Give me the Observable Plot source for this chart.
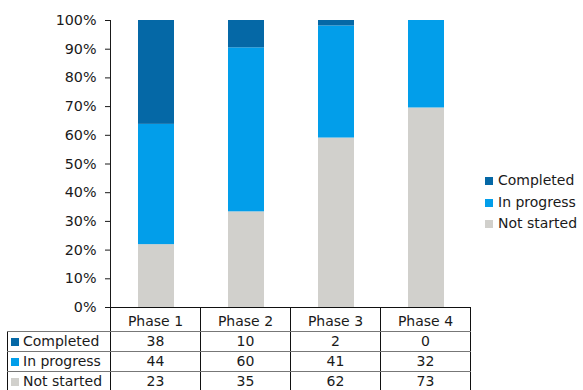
<!DOCTYPE html>
<html>
<head>
<meta charset="utf-8">
<script src="https://cdn.jsdelivr.net/npm/d3@7"></script>
<script src="https://cdn.jsdelivr.net/npm/@observablehq/plot@0.6"></script>
<style>
  html, body { margin: 0; padding: 0; background: #fff; }
  #wrap { position: relative; width: 583px; height: 390px; overflow: hidden; font-family: "DejaVu Sans", Verdana, sans-serif; font-size: 14px; color: #1a1a1a; }
  #legend { position: absolute; left: 485px; top: 170px; }
  #legend .item { height: 21.5px; line-height: 21.5px; white-space: nowrap; }
  .sw { display: inline-block; width: 8px; height: 8px; margin-right: 5px; vertical-align: 0px; }
  table { position: absolute; border-collapse: collapse; table-layout: fixed; }
  td { padding: 0; text-align: center; border-left: 1px solid #111; border-right: 1px solid #111; border-top: 1px solid #777; border-bottom: 1px solid #777; white-space: nowrap; overflow: hidden; }
  tr.head td { height: 20px; padding-top: 3px; line-height: 20px; border-top: 1px solid #111; }
  tr.head td.blank { border-top: none; border-left: none; }
  tr.row td { height: 19px; line-height: 19px; }
  td.lab { text-align: left; padding-left: 3px; }
  .lab .sw { margin-right: 4px; }
</style>
</head>
<body>
<div id="wrap"></div>
<script>
const phases = ["Phase 1", "Phase 2", "Phase 3", "Phase 4"];
const statuses = ["Completed", "In progress", "Not started"];
const completed = [38, 10, 2, 0];
const inProgress = [44, 60, 41, 32];
const notStarted = [23, 35, 62, 73];
const colors = ["#0568a6", "#029eea", "#d1d0cc"];
const yTicks = [0, 0.1, 0.2, 0.3, 0.4, 0.5, 0.6, 0.7, 0.8, 0.9, 1];

const seriesValues = {"Completed": completed, "In progress": inProgress, "Not started": notStarted};

// stacking order: bottom to top = Not started, In progress, Completed
const rows = [];
for (const s of statuses.slice().reverse()) {
  phases.forEach((p, i) => rows.push({phase: p, status: s, value: seriesValues[s][i]}));
}

const chart = Plot.plot({
  width: 583,
  height: 390,
  marginLeft: 110,
  marginRight: 112,
  marginTop: 20,
  marginBottom: 83,
  style: {fontFamily: "DejaVu Sans, Verdana, sans-serif", fontSize: "14.3px", color: "#1a1a1a", background: "transparent"},
  x: {domain: phases, padding: 0, axis: null},
  y: {domain: [0, 1], ticks: yTicks, tickFormat: d => Math.round(d * 100) + "%", tickSize: 5, tickPadding: 9, line: true, label: null},
  color: {domain: statuses, range: colors},
  marks: [
    Plot.barY(rows, Plot.stackY({offset: "normalize", x: "phase", y: "value", fill: "status", insetLeft: 27, insetRight: 27})),
    Plot.ruleY([0], {stroke: "#111"})
  ]
});

const wrap = document.getElementById("wrap");
wrap.appendChild(chart);

// data table below the plot, aligned with the x band scale
const xs = chart.scale("x");
const step = xs.step || xs.bandwidth || 90.25;
const left0 = 7, plotLeft = 110;
const table = document.createElement("table");
table.style.left = left0 + "px";
table.style.top = "307px";
table.style.width = (plotLeft - left0 + step * phases.length) + "px";
let html = `<colgroup><col style="width:${plotLeft - left0}px">` + phases.map(() => `<col style="width:${step}px">`).join("") + `</colgroup>`;
html += `<tr class="head"><td class="blank"></td>` + phases.map(p => `<td>${p}</td>`).join("") + `</tr>`;
statuses.forEach((s, k) => {
  html += `<tr class="row"><td class="lab"><span class="sw" style="background:${colors[k]}"></span>${s}</td>` +
    seriesValues[s].map(v => `<td>${v}</td>`).join("") + `</tr>`;
});
table.innerHTML = html;
wrap.appendChild(table);

// legend
const legend = document.createElement("div");
legend.id = "legend";
legend.innerHTML = statuses.map((s, k) => `<div class="item"><span class="sw" style="background:${colors[k]}"></span>${s}</div>`).join("");
wrap.appendChild(legend);
</script>
</body>
</html>
